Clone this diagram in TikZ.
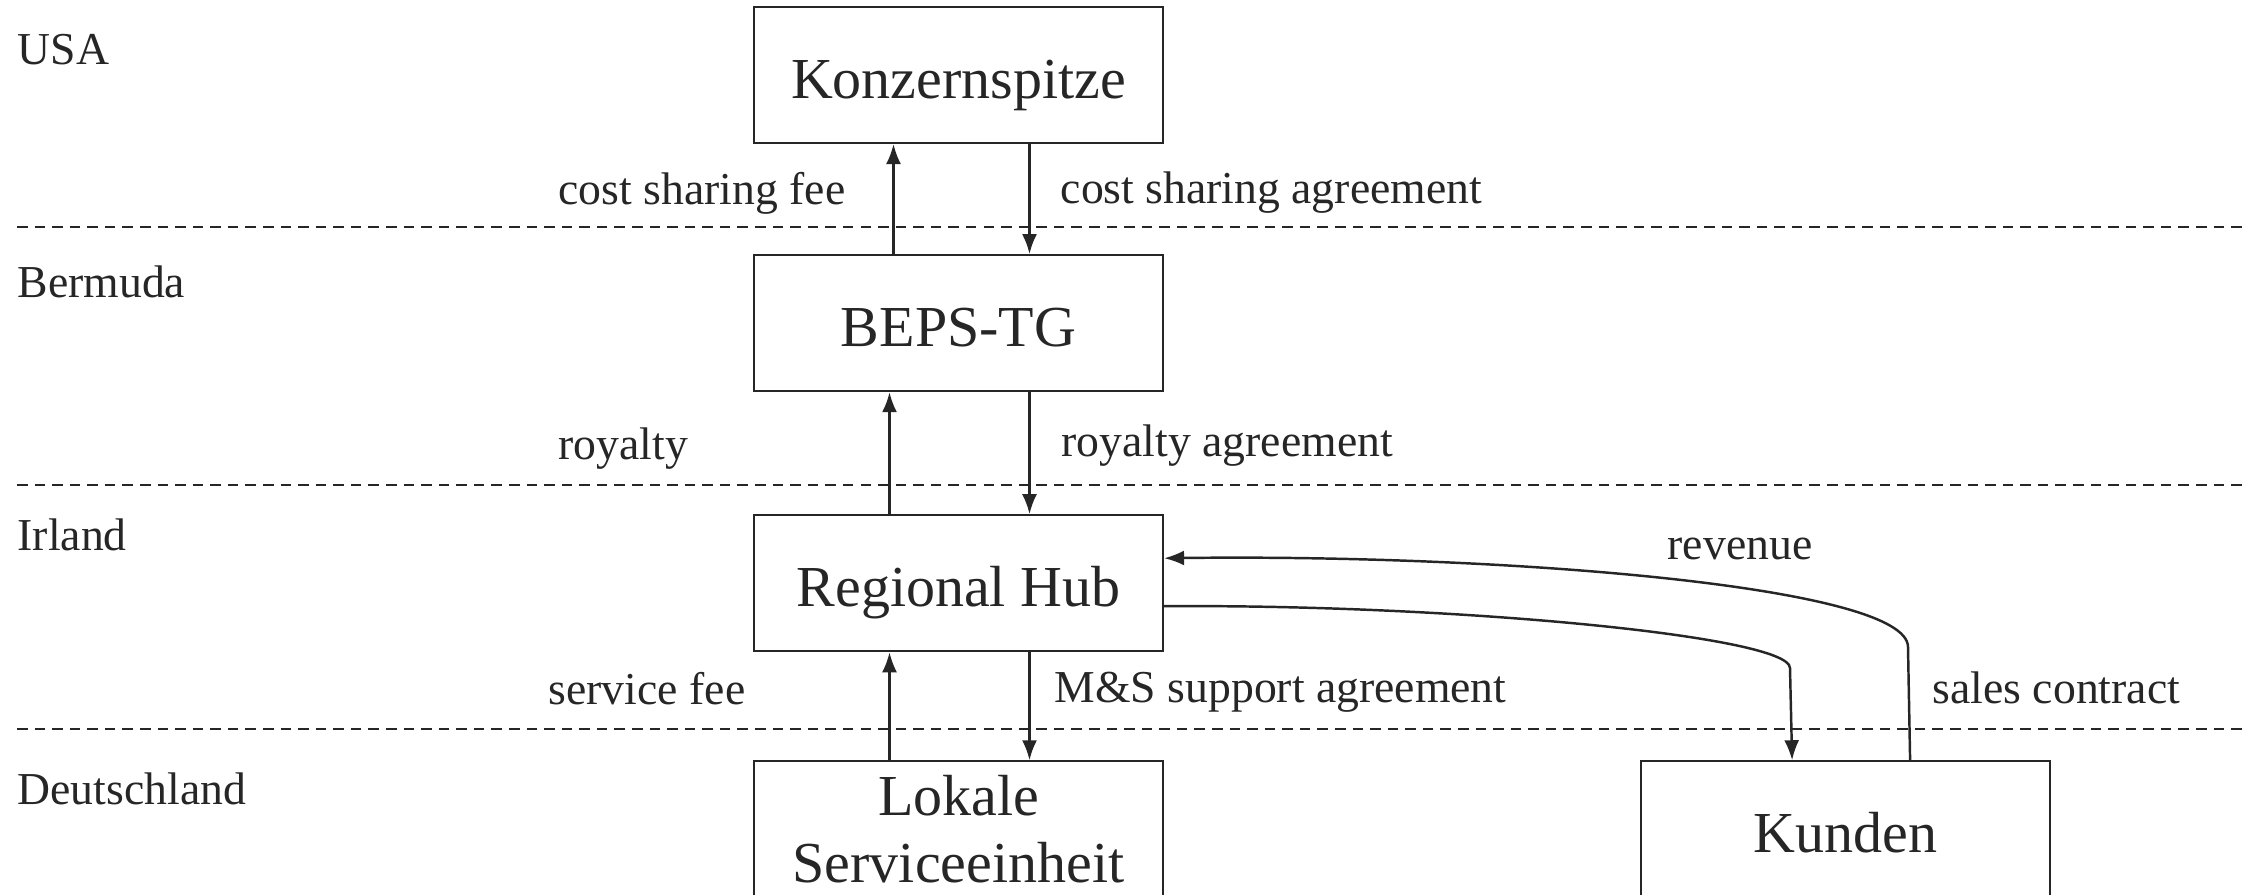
\documentclass[tikz,border=0pt]{standalone}
\usepackage{fontspec}
\setmainfont{Liberation Serif}
\usetikzlibrary{positioning,arrows.meta}
\definecolor{ink}{HTML}{262626}
\tikzset{
  box/.style={draw=ink,text=ink,line width=0.6pt,align=center,inner sep=2pt,
    minimum width=4.09cm,minimum height=1.36cm,font=\fontsize{16.5}{19}\selectfont},
  line1/.style={box,text height=15pt,text depth=1.6pt},
  lbl/.style={text=ink,font=\fontsize{13}{15}\selectfont,anchor=west,inner sep=0pt},
  sep/.style={draw=ink,line width=0.5pt,dash pattern=on 3pt off 2pt},
  arr/.style={-{Latex[length=2mm,width=1.5mm]},draw=ink,line width=0.7pt},
}

\begin{document}
\begin{tikzpicture}
\useasboundingbox (0,0) rectangle (22.42,8.94);
\clip (0,0) rectangle (22.42,8.94);
% country bands
\foreach \y in {6.67,4.09,1.65}
  \draw[sep] (0.17,\y) -- (22.42,\y);
\node[lbl] (usa) at (0.17,8.44) {USA};
\node[lbl] (bermuda) at (0.17,6.12) {Bermuda};
\node[lbl] (irland) at (0.17,3.59) {Irland};
\node[lbl] (de) at (0.17,1.05) {Deutschland};
% entities
\node[line1] (top) at (9.585,8.19) {Konzernspitze};
\node[line1, below=11mm of top] (beps) {BEPS-TG};
\node[line1, below=12.2mm of beps] (hub) {Regional Hub};
\node[box, below=10.8mm of hub] (local) {Lokale\\Serviceeinheit};
\node[line1, right=47.6mm of local] (cust) {Kunden};
% flows
\draw[arr] ([xshift=-6.5mm]beps.north) -- ([xshift=-6.5mm]top.south);
\draw[arr] ([xshift=7.1mm]top.south) -- ([xshift=7.1mm]beps.north);
\draw[arr] ([xshift=-6.9mm]hub.north) -- ([xshift=-6.9mm]beps.south);
\draw[arr] ([xshift=7.1mm]beps.south) -- ([xshift=7.1mm]hub.north);
\draw[arr] ([xshift=-6.9mm]local.north) -- ([xshift=-6.9mm]hub.south);
\draw[arr] ([xshift=7.1mm]hub.south) -- ([xshift=7.1mm]local.north);
\draw[arr] ([yshift=-2.3mm]hub.east) .. controls (14.50,2.90) and (17.90,2.58) .. (17.90,2.26)
  -- ([xshift=-5.35mm]cust.north);
\draw[arr] ([xshift=6.45mm]cust.north) -- (19.08,2.47)
  .. controls (19.08,3.08) and (15.00,3.40) .. ([yshift=2.5mm]hub.east);
% labels
\node[lbl] (csfee) at (5.58,7.01) {cost sharing fee};
\node[lbl] (csagr) at (10.60,7.01) {cost sharing agreement};
\node[lbl] (roy) at (5.58,4.45) {royalty};
\node[lbl] (royagr) at (10.61,4.48) {royalty agreement};
\node[lbl] (rev) at (16.67,3.45) {revenue};
\node[lbl] (sfee) at (5.48,2.05) {service fee};
\node[lbl] (msagr) at (10.54,2.02) {M\&S support agreement};
\node[lbl] (sales) at (19.32,2.06) {sales contract};
\end{tikzpicture}
\end{document}
